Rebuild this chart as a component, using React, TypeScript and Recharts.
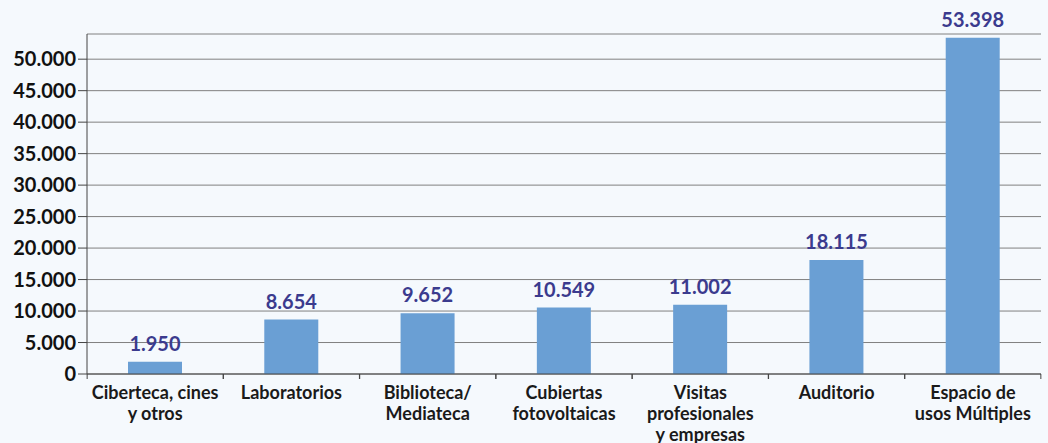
import React from 'react';
import { BarChart, Bar, XAxis, YAxis, CartesianGrid, LabelList } from 'recharts';

// Categories (line breaks as in the original labels)
const categories = [
  'Ciberteca, cines\ny otros',
  'Laboratorios',
  'Biblioteca/\nMediateca',
  'Cubiertas\nfotovoltaicas',
  'Visitas\nprofesionales\ny empresas',
  'Auditorio',
  'Espacio de\nusos Múltiples',
];
const values = [1950, 8654, 9652, 10549, 11002, 18115, 53398];
const yTicks = [0, 5000, 10000, 15000, 20000, 25000, 30000, 35000, 40000, 45000, 50000];

const FONT = "Lato, 'Open Sans', sans-serif";

const fmt = (v: number) => v.toLocaleString('de-DE');

const data = categories.map((c, i) => ({ name: c, value: values[i] }));

const CategoryTick = (props: any) => {
  const { x, y, payload } = props;
  const lines = String(payload.value).split('\n');
  const half = 68;
  return (
    <g>
      <line x1={x - half} y1={y - 8} x2={x - half} y2={y - 3} stroke="#444" />
      <line x1={x + half} y1={y - 8} x2={x + half} y2={y - 3} stroke="#444" />
      <text x={x} y={y + 17} textAnchor="middle" fill="#1a1a1a" fontSize={18} fontWeight="bold" fontFamily={FONT}>
        {lines.map((l, i) => (
          <tspan key={i} x={x} dy={i === 0 ? 0 : 21}>{l}</tspan>
        ))}
      </text>
    </g>
  );
};

const App: React.FC = () => {
  return (
    <div style={{ position: 'fixed', top: 0, left: 0, width: 1048, height: 443, background: '#f5f9fd' }}>
      <BarChart width={1048} height={443} data={data} margin={{ top: 34, right: 7, left: 0, bottom: 0 }}>
        <CartesianGrid vertical={false} stroke="#808080" strokeWidth={1} />
        <XAxis
          dataKey="name"
          interval={0}
          height={69}
          axisLine={{ stroke: '#444' }}
          tickLine={false}
          tick={<CategoryTick />}
        />
        <YAxis
          width={87}
          domain={[0, 54000]}
          ticks={yTicks}
          interval={0}
          tickFormatter={fmt}
          axisLine={{ stroke: '#444' }}
          tickLine={{ stroke: '#444' }}
          tickSize={9}
          tick={{ fill: '#111', fontSize: 20, fontWeight: 'bold', fontFamily: FONT }}
        />
        <Bar dataKey="value" fill="#6a9fd4" barSize={54} isAnimationActive={false}>
          <LabelList
            dataKey="value"
            position="top"
            offset={11}
            formatter={(v: any) => fmt(Number(v))}
            fill="#3b3b8e"
            fontSize={20}
            fontWeight="bold"
            fontFamily={FONT}
          />
        </Bar>
      </BarChart>
    </div>
  );
};

export default App;
